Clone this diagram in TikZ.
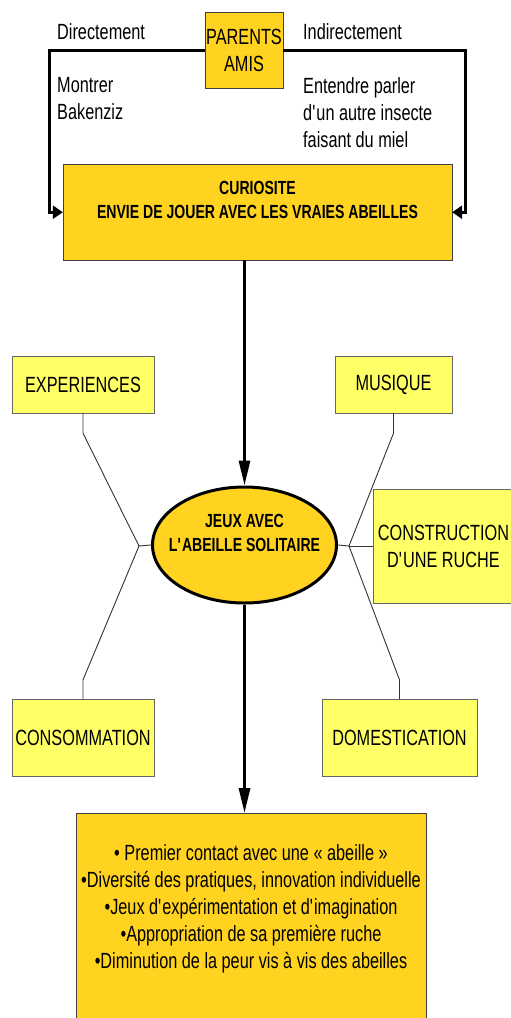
\documentclass[tikz,border=0pt]{standalone}
\usepackage{fontspec}
\setmainfont[FakeStretch=0.74]{Liberation Sans}
\usepackage{tikz}
\usetikzlibrary{arrows.meta,shapes.geometric}
\definecolor{gold}{HTML}{FFD320}
\definecolor{paleyellow}{HTML}{FFFF66}

\begin{document}
\begin{tikzpicture}[x=1pt,y=-1pt,
      >={Triangle[length=25pt,width=11pt]},
      txt/.style={font=\fontsize{22}{27}\selectfont},
      bold/.style={font=\fontsize{19}{24}\selectfont\bfseries},
      theme/.style={rectangle,draw=black!60,fill=paleyellow,txt,align=center,inner sep=0pt},
      goldbox/.style={rectangle,draw=black!75,fill=gold,inner sep=0pt},
      label txt/.style={txt,inner sep=0pt},
      thick arrow/.style={->,line width=3pt},
      link/.style={draw=black!80,line width=0.9pt},
      bracket/.style={-{Triangle[length=10pt,width=13pt]},line width=3pt}]

      \useasboundingbox (0,0) rectangle (511,1018);

      % who shows the bees
      \node[goldbox,txt,align=center,minimum width=78pt,minimum height=76pt] (parents) at (244,50) {PARENTS\\AMIS};
      \node[label txt,anchor=base west] (direct) at (57,39) {Directement};
      \node[label txt,anchor=base west] (indirect) at (303,39) {Indirectement};
      \node[label txt,anchor=north west,align=left] (montrer) at (57,77) {Montrer\\Bakenziz};
      \node[label txt,anchor=north west,align=left] (entendre) at (303,77)
        {Entendre parler\\d\textquotesingle un autre insecte\\faisant du miel};

      \node[goldbox,bold,anchor=north,minimum width=389pt,text height=30pt,text depth=66pt] (curio) at (257.5,164)
        {\begin{tabular}[t]{@{}c@{}}CURIOSITE\\ENVIE DE JOUER AVEC LES VRAIES ABEILLES\end{tabular}};

      % centre
      \node[ellipse,draw,line width=3pt,fill=gold,bold,inner sep=0pt,minimum width=184pt,minimum height=116pt,
        text height=14pt,text depth=50pt] (jeu) at (244.5,545)
        {\makebox[0pt]{\begin{tabular}[t]{@{}c@{}}JEUX AVEC\\L\textquotesingle ABEILLE SOLITAIRE\end{tabular}}};

      \node[theme,minimum width=142pt,minimum height=57pt] (exp) at (83,384.5) {EXPERIENCES};
      \node[theme,minimum width=117pt,minimum height=57pt] (mus) at (393.5,384.5) {MUSIQUE};
      \node[theme,minimum width=141pt,minimum height=114pt] (cons) at (443.5,546) {CONSTRUCTION\\D\textquotesingle UNE RUCHE};
      \node[theme,minimum width=142pt,minimum height=77pt] (conso) at (83,737.5) {CONSOMMATION};
      \node[theme,minimum width=155pt,minimum height=77pt] (dom) at (399.5,737.5) {DOMESTICATION};

      % outcome
      \node[goldbox,txt,anchor=north,minimum width=350pt,text height=47pt,text depth=165pt] (bilan) at (251,813)
        {\begin{tabular}[t]{@{}c@{}}
          • Premier contact avec une « abeille »\\
          •Diversité des pratiques, innovation individuelle\\
          •Jeux d\textquotesingle expérimentation et d\textquotesingle imagination\\
          •Appropriation de sa première ruche\\
          •Diminution de la peur vis à vis des abeilles
        \end{tabular}};

      \coordinate (hubl) at (139,546);
      \coordinate (hubr) at (349,546);

      \draw[bracket] (parents.west) -| ([xshift=-13pt]curio.west) -- (curio.west);
      \draw[bracket] (parents.east) -| ([xshift=13pt]curio.east) -- (curio.east);

      \draw[thick arrow] (jeu.north |- curio.south) -- (jeu.north);
      \draw[thick arrow] (jeu.south) -- (jeu.south |- bilan.north);

      \draw[link] (exp.south) -- ++(0,20) -- (hubl) -- (jeu.west);
      \draw[link] (conso.north) -- ++(0,-19) -- (hubl);
      \draw[link] (mus.south) -- ++(0,20) -- (hubr) -- (jeu.east);
      \draw[link] (hubr) -- (cons.west);
      \draw[link] (dom.north) -- ++(0,-19) -- (hubr);
\end{tikzpicture}
\end{document}
